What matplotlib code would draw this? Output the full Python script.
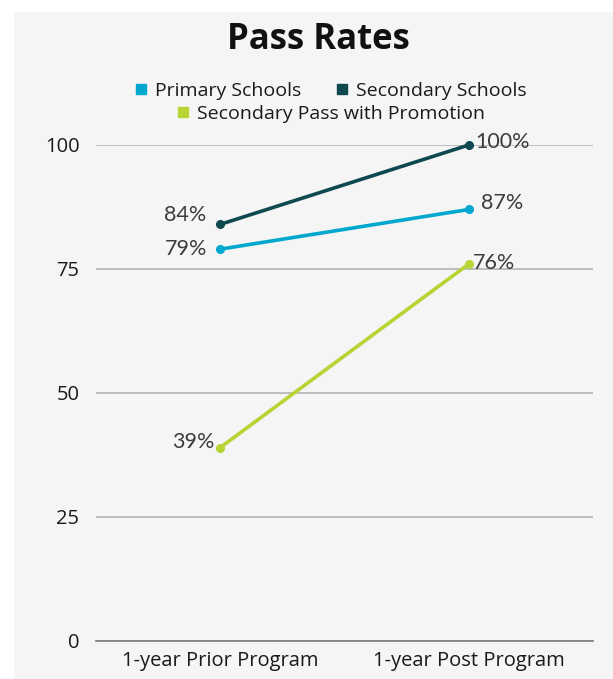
import matplotlib.pyplot as plt
from matplotlib.patches import Rectangle
from matplotlib.lines import Line2D

# Categories and series values (percent)
categories = ["1-year Prior Program", "1-year Post Program"]
primary = [79, 87]
secondary = [84, 100]
promotion = [39, 76]
y_ticks = [0, 25, 50, 75, 100]

c_primary = "#00a8cf"
c_secondary = "#0f4950"
c_promotion = "#b6d433"
label_color = "#3c3c3c"

W, H = 613, 679
fig = plt.figure(figsize=(W / 100, H / 100), dpi=100)
fig.patch.set_facecolor("white")

# light grey panel behind the chart
fig.patches.append(Rectangle((14 / W, 0), 1, 1 - 12 / H, transform=fig.transFigure,
                             facecolor="#f5f5f5", edgecolor="none", zorder=-10))

ax = fig.add_axes([96 / W, 38 / H, (593 - 96) / W, (641 - 145) / H])
ax.set_facecolor("none")
ax.set_zorder(5)

x = [0.5, 1.5]
ax.plot(x, secondary, color=c_secondary, lw=2.6, marker="o", ms=5.5, zorder=3)
ax.plot(x, primary, color=c_primary, lw=2.6, marker="o", ms=5.5, zorder=3)
ax.plot(x, promotion, color=c_promotion, lw=2.6, marker="o", ms=5.5, zorder=3)

# data labels
lab_font = dict(fontsize=15.5, color=label_color, family="Lato")
ax.annotate(f"{secondary[0]}%", (x[0], secondary[0]), xytext=(-10, 7), textcoords="offset points", ha="right", va="center", **lab_font)
ax.annotate(f"{primary[0]}%", (x[0], primary[0]), xytext=(-9, 0), textcoords="offset points", ha="right", va="center", **lab_font)
ax.annotate(f"{promotion[0]}%", (x[0], promotion[0]), xytext=(-4, 4), textcoords="offset points", ha="right", va="center", **lab_font)
ax.annotate(f"{secondary[1]}%", (x[1], secondary[1]), xytext=(5, 2), textcoords="offset points", ha="left", va="center", **lab_font)
ax.annotate(f"{primary[1]}%", (x[1], primary[1]), xytext=(9, 5), textcoords="offset points", ha="left", va="center", **lab_font)
ax.annotate(f"{promotion[1]}%", (x[1], promotion[1]), xytext=(3, 1), textcoords="offset points", ha="left", va="center", **lab_font)

ax.set_xlim(0, 2)
ax.set_ylim(0, 100)
ax.set_xticks(x)
ax.set_xticklabels(categories, fontsize=14.5, color="#1a1a1a", family="Open Sans")
ax.set_yticks(y_ticks)
ax.set_yticklabels([str(v) for v in y_ticks], fontsize=14.5, color="#1a1a1a", family="Open Sans")
ax.tick_params(length=0, pad=12)
ax.tick_params(axis="x", pad=7)
ax.grid(axis="y", color="#b3b3b3", lw=1.2, zorder=1)
ax.set_axisbelow(True)
for s in ["top", "right", "left"]:
    ax.spines[s].set_visible(False)
ax.spines["bottom"].set_color("#7a7a7a")
ax.spines["bottom"].set_linewidth(1.2)
for ln in ax.lines:
    ln.set_clip_on(False)

fig.text(318 / W, 1 - 40 / H, "Pass Rates", ha="center", va="center",
         fontsize=25, fontweight="bold", family="Open Sans", color="#111111")

def handle(c):
    return Line2D([], [], marker="s", ls="none", color=c, ms=7)

leg_font = dict(family="Open Sans", size=14)
leg1 = fig.legend([handle(c_primary), handle(c_secondary)], ["Primary Schools", "Secondary Schools"],
                  loc="center", bbox_to_anchor=(329 / W, 1 - 91 / H), ncol=2, frameon=False,
                  prop=leg_font, handletextpad=0.2, columnspacing=1.6, handlelength=1.0,
                  labelcolor="#1a1a1a")
leg2 = fig.legend([handle(c_promotion)], ["Secondary Pass with Promotion"],
                  loc="center", bbox_to_anchor=(329 / W, 1 - 114 / H), frameon=False,
                  prop=leg_font, handletextpad=0.2, handlelength=1.0, labelcolor="#1a1a1a")

fig.savefig("out.png", dpi=100, facecolor=fig.get_facecolor())
